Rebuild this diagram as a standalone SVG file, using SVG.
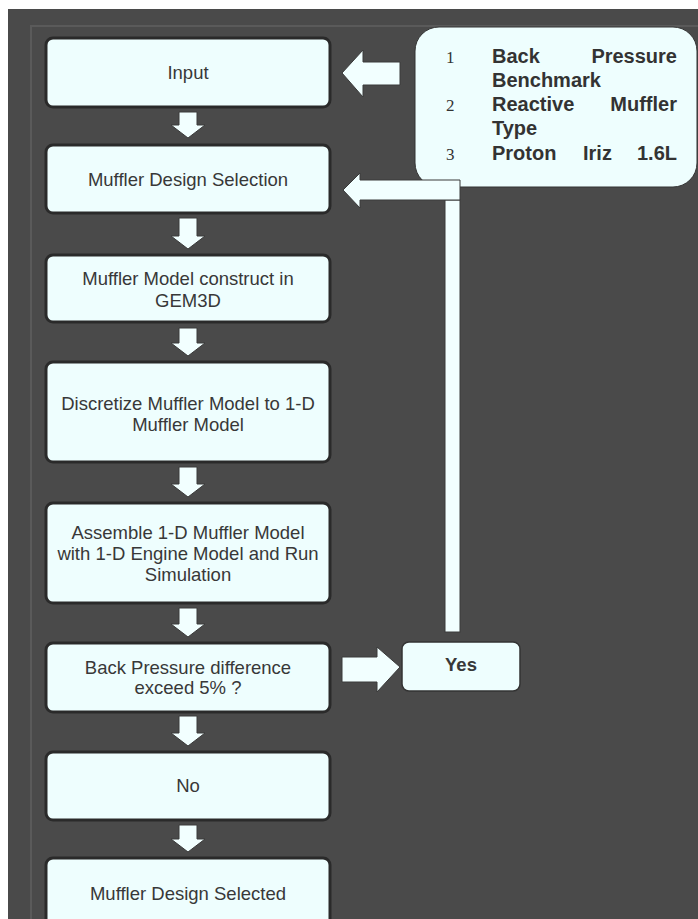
<svg xmlns="http://www.w3.org/2000/svg" width="698" height="919" viewBox="0 0 698 919">
<style>
.node{fill:#eefefe;stroke:#2a2a2a;stroke-width:3}
.lbl{font-family:"Liberation Sans",Arial,sans-serif;font-size:18.5px;fill:#383838;text-anchor:middle}
.arr{fill:#f2ffff;stroke:#3a3a3a;stroke-width:1}
.info{font-family:"Liberation Sans",Arial,sans-serif;font-size:20px;font-weight:bold;fill:#333}
.num{font-family:"Liberation Serif","Times New Roman",serif;font-size:17px;fill:#333}
</style>
<rect x="0" y="0" width="698" height="919" fill="#ffffff"/>
<rect x="8" y="9" width="690" height="910" fill="#4a4a4a"/>
<path d="M31 919 V26 H698" fill="none" stroke="#5a5a5a" stroke-width="2"/>

<g id="connectors">
<path class="arr" d="M179 112 H197 V125 H205 L188 138 L171 125 H179 Z"/>
<path class="arr" d="M179 218 H197 V236 H205 L188 249 L171 236 H179 Z"/>
<path class="arr" d="M179 328 H197 V343 H205 L188 356 L171 343 H179 Z"/>
<path class="arr" d="M179 467 H197 V484 H205 L188 497 L171 484 H179 Z"/>
<path class="arr" d="M179 608 H197 V624 H205 L188 637 L171 624 H179 Z"/>
<path class="arr" d="M179 716 H197 V733 H205 L188 746 L171 733 H179 Z"/>
<path class="arr" d="M179 825 H197 V839 H205 L188 852 L171 839 H179 Z"/>
<path class="arr" d="M400 62 V85 H363 V97 L342 73 L363 50 V62 Z"/>
<path class="arr" d="M342 657 H377 V647 L400 667 L377 692 V682 H342 Z"/>
</g>

<g id="info">
<rect x="415" y="27" width="282" height="160" rx="24" fill="#eefefe" stroke="#333" stroke-width="1"/>
<text class="num" x="446" y="63">1</text>
<text class="info" x="492" y="63">Back</text>
<text class="info" x="677" y="63" text-anchor="end">Pressure</text>
<text class="info" x="492" y="87">Benchmark</text>
<text class="num" x="446" y="111">2</text>
<text class="info" x="492" y="111">Reactive</text>
<text class="info" x="677" y="111" text-anchor="end">Muffler</text>
<text class="info" x="492" y="135">Type</text>
<text class="num" x="446" y="160">3</text>
<text class="info" x="492" y="160">Proton</text>
<text class="info" x="583" y="160">Iriz</text>
<text class="info" x="677" y="160" text-anchor="end">1.6L</text>
</g>

<g id="feedback">
<rect class="arr" x="445" y="200" width="15" height="432"/>
<path class="arr" d="M460 180 V200 H360 V208 L343 190 L360 173 V180 Z"/>
</g>

<g id="n-input"><rect class="node" x="46" y="38" width="284" height="69" rx="7"/><text class="lbl" x="188" y="79">Input</text></g>
<g id="n-mds"><rect class="node" x="46" y="145" width="284" height="68" rx="7"/><text class="lbl" x="188" y="186">Muffler Design Selection</text></g>
<g id="n-model"><rect class="node" x="46" y="255" width="284" height="67" rx="7"/><text class="lbl" x="188" y="285">Muffler Model construct in</text><text class="lbl" x="188" y="307">GEM3D</text></g>
<g id="n-disc"><rect class="node" x="46" y="362" width="284" height="100" rx="7"/><text class="lbl" x="188" y="410">Discretize Muffler Model to 1-D</text><text class="lbl" x="188" y="431">Muffler Model</text></g>
<g id="n-assemble"><rect class="node" x="46" y="503" width="284" height="100" rx="7"/><text class="lbl" x="188" y="539">Assemble 1-D Muffler Model</text><text class="lbl" x="188" y="560">with 1-D Engine Model and Run</text><text class="lbl" x="188" y="581">Simulation</text></g>
<g id="n-bp"><rect class="node" x="46" y="643" width="284" height="69" rx="7"/><text class="lbl" x="188" y="674">Back Pressure difference</text><text class="lbl" x="188" y="694">exceed 5% ?</text></g>
<g id="n-no"><rect class="node" x="46" y="752" width="284" height="68" rx="7"/><text class="lbl" x="188" y="792">No</text></g>
<g id="n-selected"><rect class="node" x="46" y="858" width="284" height="80" rx="7"/><text class="lbl" x="188" y="900">Muffler Design Selected</text></g>
<g id="n-yes"><rect x="402" y="642" width="118" height="49" rx="7" fill="#eefefe" stroke="#333" stroke-width="1.5"/><text class="lbl" x="461" y="671" font-weight="bold">Yes</text></g>
</svg>
